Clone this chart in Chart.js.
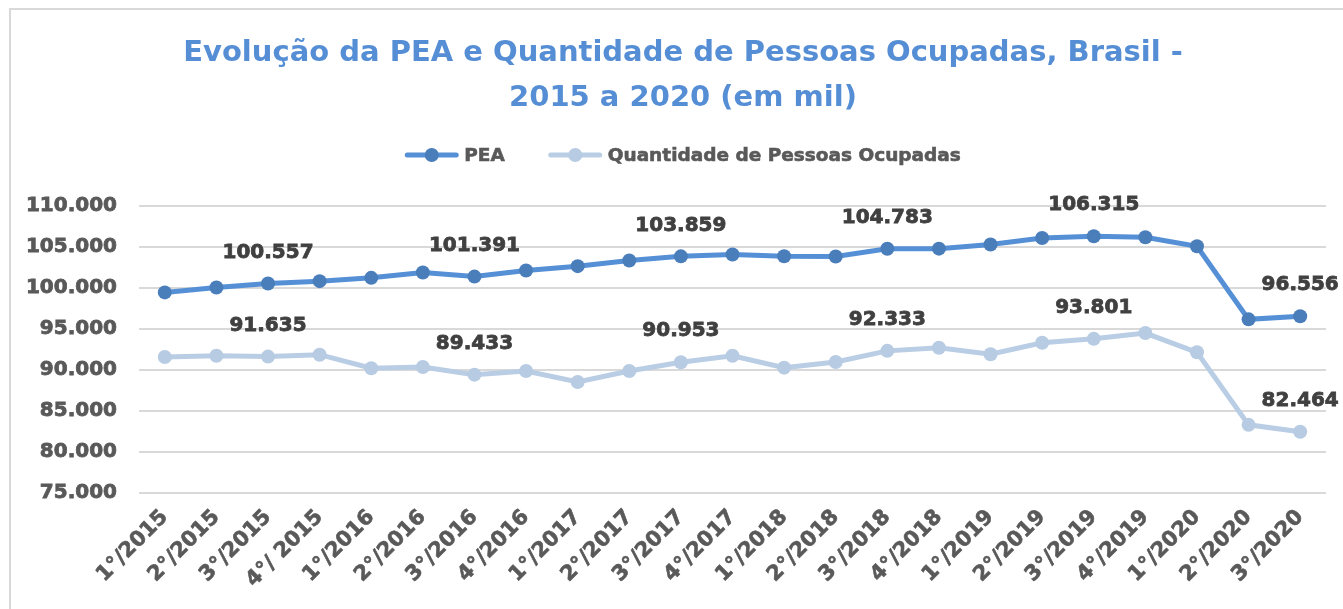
<!DOCTYPE html>
<html>
<head>
<meta charset="utf-8">
<script src="https://cdn.jsdelivr.net/npm/chart.js@4/dist/chart.umd.min.js"></script>
<style>
  html, body { margin: 0; padding: 0; background: #fff; overflow: hidden; width: 1343px; height: 609px; }
  #frame { position: absolute; left: 9px; top: 8px; width: 1400px; height: 700px;
           border-left: 2px solid #d9d9d9; border-top: 2px solid #d9d9d9; }
  #wrap { position: absolute; left: 0; top: 0; width: 1366px; height: 609px; }
</style>
</head>
<body>
<div id="frame"></div>
<div id="wrap"><canvas id="chart" width="1366" height="609"></canvas></div>
<script>
// trimestres
const quarters = [
  '1°/2015', '2°/2015', '3°/2015', '4°/ 2015',
  '1°/2016', '2°/2016', '3°/2016', '4°/2016',
  '1°/2017', '2°/2017', '3°/2017', '4°/2017',
  '1°/2018', '2°/2018', '3°/2018', '4°/2018',
  '1°/2019', '2°/2019', '3°/2019', '4°/2019',
  '1°/2020', '2°/2020', '3°/2020'
];

// em mil pessoas
const pea = [
  99461, 100069, 100557, 100836,
  101238, 101895, 101391, 102138,
  102662, 103355, 103859, 104085,
  103879, 103842, 104783, 104800,
  105302, 106106, 106315, 106190,
  105096, 96175, 96556
];
const ocupadas = [
  91587, 91745, 91635, 91867,
  90212, 90370, 89433, 89883,
  88545, 89883, 90953, 91745,
  90285, 90978, 92333, 92719,
  91915, 93327, 93801, 94508,
  92159, 83311, 82464
];

// pontos com rótulo de valor
const labelled = [2, 6, 10, 14, 18, 22];

const yMin = 75000, yMax = 110000, yStep = 5000;

const FONT = '"DejaVu Sans", sans-serif';

function fmt(v) {
  return String(v).replace(/\B(?=(\d{3})+(?!\d))/g, '.');
}

const valueLabels = {
  id: 'valueLabels',
  afterDatasetsDraw(chart) {
    const ctx = chart.ctx;
    ctx.save();
    ctx.font = 'bold 20px ' + FONT;
    ctx.fillStyle = '#404040';
    ctx.strokeStyle = '#404040';
    ctx.lineWidth = 0.8;
    ctx.textAlign = 'center';
    ctx.textBaseline = 'middle';
    chart.data.datasets.forEach((ds, d) => {
      const meta = chart.getDatasetMeta(d);
      labelled.forEach(i => {
        const p = meta.data[i];
        ctx.fillText(fmt(ds.data[i]), p.x, p.y - 31);
        ctx.strokeText(fmt(ds.data[i]), p.x, p.y - 31);
      });
    });
    ctx.restore();
  }
};

const lineLegend = {
  id: 'lineLegend',
  afterDraw(chart) {
    const ctx = chart.ctx;
    ctx.save();
    ctx.font = 'bold 18.5px ' + FONT;
    const gap = 42;
    const items = chart.data.datasets.map(ds => ({ds, w: 61 + ctx.measureText(ds.label).width}));
    const total = items.reduce((s, it) => s + it.w, 0) + gap * (items.length - 1);
    let x = chart.width / 2 - total / 2;
    const y = 155;
    items.forEach(({ds, w}) => {
      ctx.strokeStyle = ds.borderColor;
      ctx.lineWidth = 5;
      ctx.lineCap = 'round';
      ctx.beginPath();
      ctx.moveTo(x + 3, y);
      ctx.lineTo(x + 52, y);
      ctx.stroke();
      ctx.fillStyle = ds.pointBackgroundColor;
      ctx.beginPath();
      ctx.arc(x + 27.5, y, 7, 0, Math.PI * 2);
      ctx.fill();
      ctx.fillStyle = '#595959';
      ctx.strokeStyle = '#595959';
      ctx.lineWidth = 0.6;
      ctx.textAlign = 'left';
      ctx.textBaseline = 'middle';
      ctx.fillText(ds.label, x + 60, y + 1);
      ctx.strokeText(ds.label, x + 60, y + 1);
      x += w + gap;
    });
    ctx.restore();
  }
};

const ctx = document.getElementById('chart').getContext('2d');
new Chart(ctx, {
  type: 'line',
  data: {
    labels: quarters,
    datasets: [
      {
        label: 'PEA',
        data: pea,
        borderColor: '#5590d6',
        backgroundColor: '#4a7ebb',
        pointBackgroundColor: '#4a7ebb',
        pointBorderWidth: 0,
        pointRadius: 7,
        pointHoverRadius: 7,
        borderWidth: 5,
        tension: 0
      },
      {
        label: 'Quantidade de Pessoas Ocupadas',
        data: ocupadas,
        borderColor: '#b9cde5',
        backgroundColor: '#b7cbe3',
        pointBackgroundColor: '#b7cbe3',
        pointBorderWidth: 0,
        pointRadius: 7,
        pointHoverRadius: 7,
        borderWidth: 5,
        tension: 0
      }
    ]
  },
  options: {
    responsive: false,
    animation: false,
    layout: { padding: 0 },
    plugins: {
      legend: { display: false },
      tooltip: { enabled: false },
      title: {
        display: true,
        text: ['Evolução da PEA e Quantidade de Pessoas Ocupadas, Brasil -', '2015 a 2020 (em mil)'],
        color: '#558ed5',
        font: { family: FONT, size: 29, weight: 'bold', lineHeight: 45 / 29 },
        padding: { top: 31, bottom: 85 }
      }
    },
    scales: {
      x: {
        offset: true,
        grid: { display: false },
        border: { display: false },
        ticks: {
          color: '#595959',
          textStrokeColor: '#595959',
          textStrokeWidth: 0.6,
          font: { family: FONT, size: 21, weight: 'bold' },
          minRotation: 45,
          maxRotation: 45,
          autoSkip: false,
          padding: 4
        },
        afterFit(scale) { scale.height = 116; }
      },
      y: {
        min: yMin,
        max: yMax,
        border: { display: false },
        grid: { color: '#d9d9d9', lineWidth: 2, drawTicks: false },
        ticks: {
          stepSize: yStep,
          color: '#595959',
          textStrokeColor: '#595959',
          textStrokeWidth: 0.8,
          font: { family: FONT, size: 20, weight: 'bold' },
          padding: 22,
          callback: v => fmt(v)
        },
        afterFit(scale) { scale.width = 139; }
      },
      // empty right margin so the title stays centred on the whole frame
      spacer: {
        position: 'right',
        grid: { display: false },
        border: { display: false },
        ticks: { display: false },
        afterFit(scale) { scale.width = 40; }
      }
    }
  },
  plugins: [valueLabels, lineLegend]
});
</script>
</body>
</html>
